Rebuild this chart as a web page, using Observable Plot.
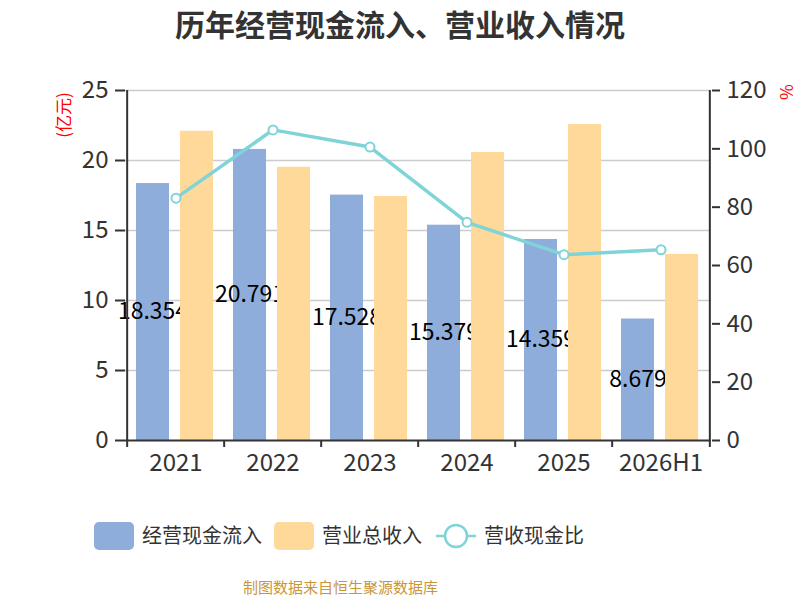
<!DOCTYPE html>
<html><head><meta charset="utf-8">
<script src="https://cdn.jsdelivr.net/npm/d3@7"></script>
<script src="https://cdn.jsdelivr.net/npm/@observablehq/plot@0.6"></script>
<style>
body{margin:0;width:800px;height:600px;position:relative;background:#fff;font-family:"Noto Sans CJK SC","Noto Sans",sans-serif;overflow:hidden}
.abs{position:absolute;white-space:nowrap}
#title{left:0;width:800px;top:2px;text-align:center;font-size:30px;font-weight:bold;color:#333;line-height:42px}
#chart{left:0;top:50px}
.unit{color:#f00;font-size:17px;line-height:18px}
.lg{font-size:20px;color:#333;line-height:28px}
.sw{width:40px;height:28px;border-radius:5px}
#foot{left:243px;top:577px;font-size:15px;color:#c9973a;line-height:20px}
</style></head>
<body>
<div id="title" class="abs">历年经营现金流入、营业收入情况</div>
<div id="chart" class="abs"></div>
<div class="abs unit" style="left:63px;top:115px;transform:translate(-50%,-50%) rotate(-90deg)">(亿元)</div>
<div class="abs unit" style="left:787px;top:92px;transform:translate(-50%,-50%) rotate(90deg)">%</div>
<div id="legend"></div>
<div id="foot" class="abs">制图数据来自恒生聚源数据库</div>
<script>
const years = ["2021","2022","2023","2024","2025","2026H1"];
const cashIn = [18.354, 20.791, 17.528, 15.379, 14.359, 8.679];
const cashInLabels = ["18.354","20.791","17.528","15.379","14.359","8.679"];
const revenue = [22.09, 19.52, 17.43, 20.57, 22.57, 13.29];
const ratio = [83.1, 106.5, 100.6, 74.8, 63.7, 65.4];
const leftTicks = [0,5,10,15,20,25];
const rightTicks = [0,20,40,60,80,100,120];
const seriesNames = ["经营现金流入","营业总收入","营收现金比"];
const colors = ["#8eaddb","#ffd99a","#80d4d8"];

const W = 800, H = 450, mL = 125, mR = 89, mT = 40, mB = 60;
const leftMax = 25, rightMax = 120;
const k = leftMax / rightMax;
const bw = (W - mL - mR) / years.length;

const rows = years.map((y, i) => ({year: y, cash: cashIn[i], label: cashInLabels[i], rev: revenue[i], ratio: ratio[i]}));

const axisColor = "#333";
const tickFont = 24;
const chart = Plot.plot({
  width: W, height: H,
  marginLeft: mL, marginRight: mR, marginTop: mT, marginBottom: mB,
  style: {fontFamily: '"Noto Sans CJK SC","Noto Sans",sans-serif', fontSize: tickFont + "px", color: axisColor, background: "#fff"},
  x: {type: "band", domain: years, paddingInner: 0, paddingOuter: 0, axis: null},
  y: {domain: [0, leftMax], axis: null},
  marks: [
    Plot.ruleY(leftTicks.slice(1), {stroke: "#cccccc", strokeWidth: 1.3}),
    Plot.barY(rows, {x: "year", y: "cash", fill: colors[0], insetLeft: bw*0.092, insetRight: bw - bw*0.092 - bw*0.345}),
    Plot.text(rows, {x: "year", y: d => d.cash / 2, text: "label", dx: -bw/2 + bw*0.092 + bw*0.345/2, fill: "#000", fontSize: 23}),
    Plot.barY(rows, {x: "year", y: "rev", fill: colors[1], insetLeft: bw*0.543, insetRight: bw - bw*0.543 - bw*0.345}),
    // axis lines
    Plot.ruleY([0], {stroke: axisColor, strokeWidth: 2}),
    Plot.ruleX([years[0]], {x: d => d, dx: -bw/2, y1: 0, y2: leftMax, stroke: axisColor, strokeWidth: 2}),
    Plot.ruleX([years[years.length-1]], {x: d => d, dx: bw/2, y1: 0, y2: leftMax, stroke: axisColor, strokeWidth: 2}),
    // x tick marks at band boundaries
    Plot.ruleX(years, {x: d => d, dx: -bw/2, y1: 0, y2: -0.5, stroke: axisColor, strokeWidth: 2}),
    Plot.ruleX([years[years.length-1]], {x: d => d, dx: bw/2, y1: 0, y2: -0.5, stroke: axisColor, strokeWidth: 2}),
    Plot.axisX({tickSize: 0, tickPadding: 13, fontSize: tickFont, fill: axisColor, label: null}),
    Plot.axisY(leftTicks, {anchor: "left", tickSize: 10, tickPadding: 7, strokeWidth: 2, stroke: axisColor, fill: axisColor, fontSize: tickFont, label: null}),
    Plot.axisY(rightTicks.map(v => v * k), {anchor: "right", tickSize: 8, tickPadding: 7, strokeWidth: 2, stroke: axisColor, fill: axisColor, fontSize: tickFont, label: null, tickFormat: v => String(Math.round(v / k))}),
    Plot.line(rows, {x: "year", y: d => d.ratio * k, stroke: colors[2], strokeWidth: 3.5}),
    Plot.dot(rows, {x: "year", y: d => d.ratio * k, r: 4.5, fill: "#fff", stroke: colors[2], strokeWidth: 2})
  ]
});
document.getElementById("chart").appendChild(chart);

// legend
const lg = document.getElementById("legend");
const items = [
  {name: seriesNames[0], type: "bar", color: colors[0], x: 94},
  {name: seriesNames[1], type: "bar", color: colors[1], x: 274},
  {name: seriesNames[2], type: "line", color: colors[2], x: 436}
];
items.forEach(it => {
  if (it.type === "bar") {
    const s = document.createElement("div");
    s.className = "abs sw"; s.style.left = it.x + "px"; s.style.top = "522px"; s.style.background = it.color;
    lg.appendChild(s);
  } else {
    const ns = "http://www.w3.org/2000/svg";
    const svg = document.createElementNS(ns, "svg");
    svg.setAttribute("width", 40); svg.setAttribute("height", 28);
    svg.setAttribute("class", "abs"); svg.style.left = it.x + "px"; svg.style.top = "522px";
    const l = document.createElementNS(ns, "line");
    l.setAttribute("x1", 0); l.setAttribute("x2", 40); l.setAttribute("y1", 14); l.setAttribute("y2", 14);
    l.setAttribute("stroke", it.color); l.setAttribute("stroke-width", 2.5);
    const c = document.createElementNS(ns, "circle");
    c.setAttribute("cx", 20); c.setAttribute("cy", 14); c.setAttribute("r", 11);
    c.setAttribute("fill", "#fff"); c.setAttribute("stroke", it.color); c.setAttribute("stroke-width", 2.5);
    svg.appendChild(l); svg.appendChild(c); lg.appendChild(svg);
  }
  const t = document.createElement("div");
  t.className = "abs lg"; t.textContent = it.name;
  t.style.left = (it.x + 48) + "px"; t.style.top = "521px";
  lg.appendChild(t);
});
</script>
</body></html>
